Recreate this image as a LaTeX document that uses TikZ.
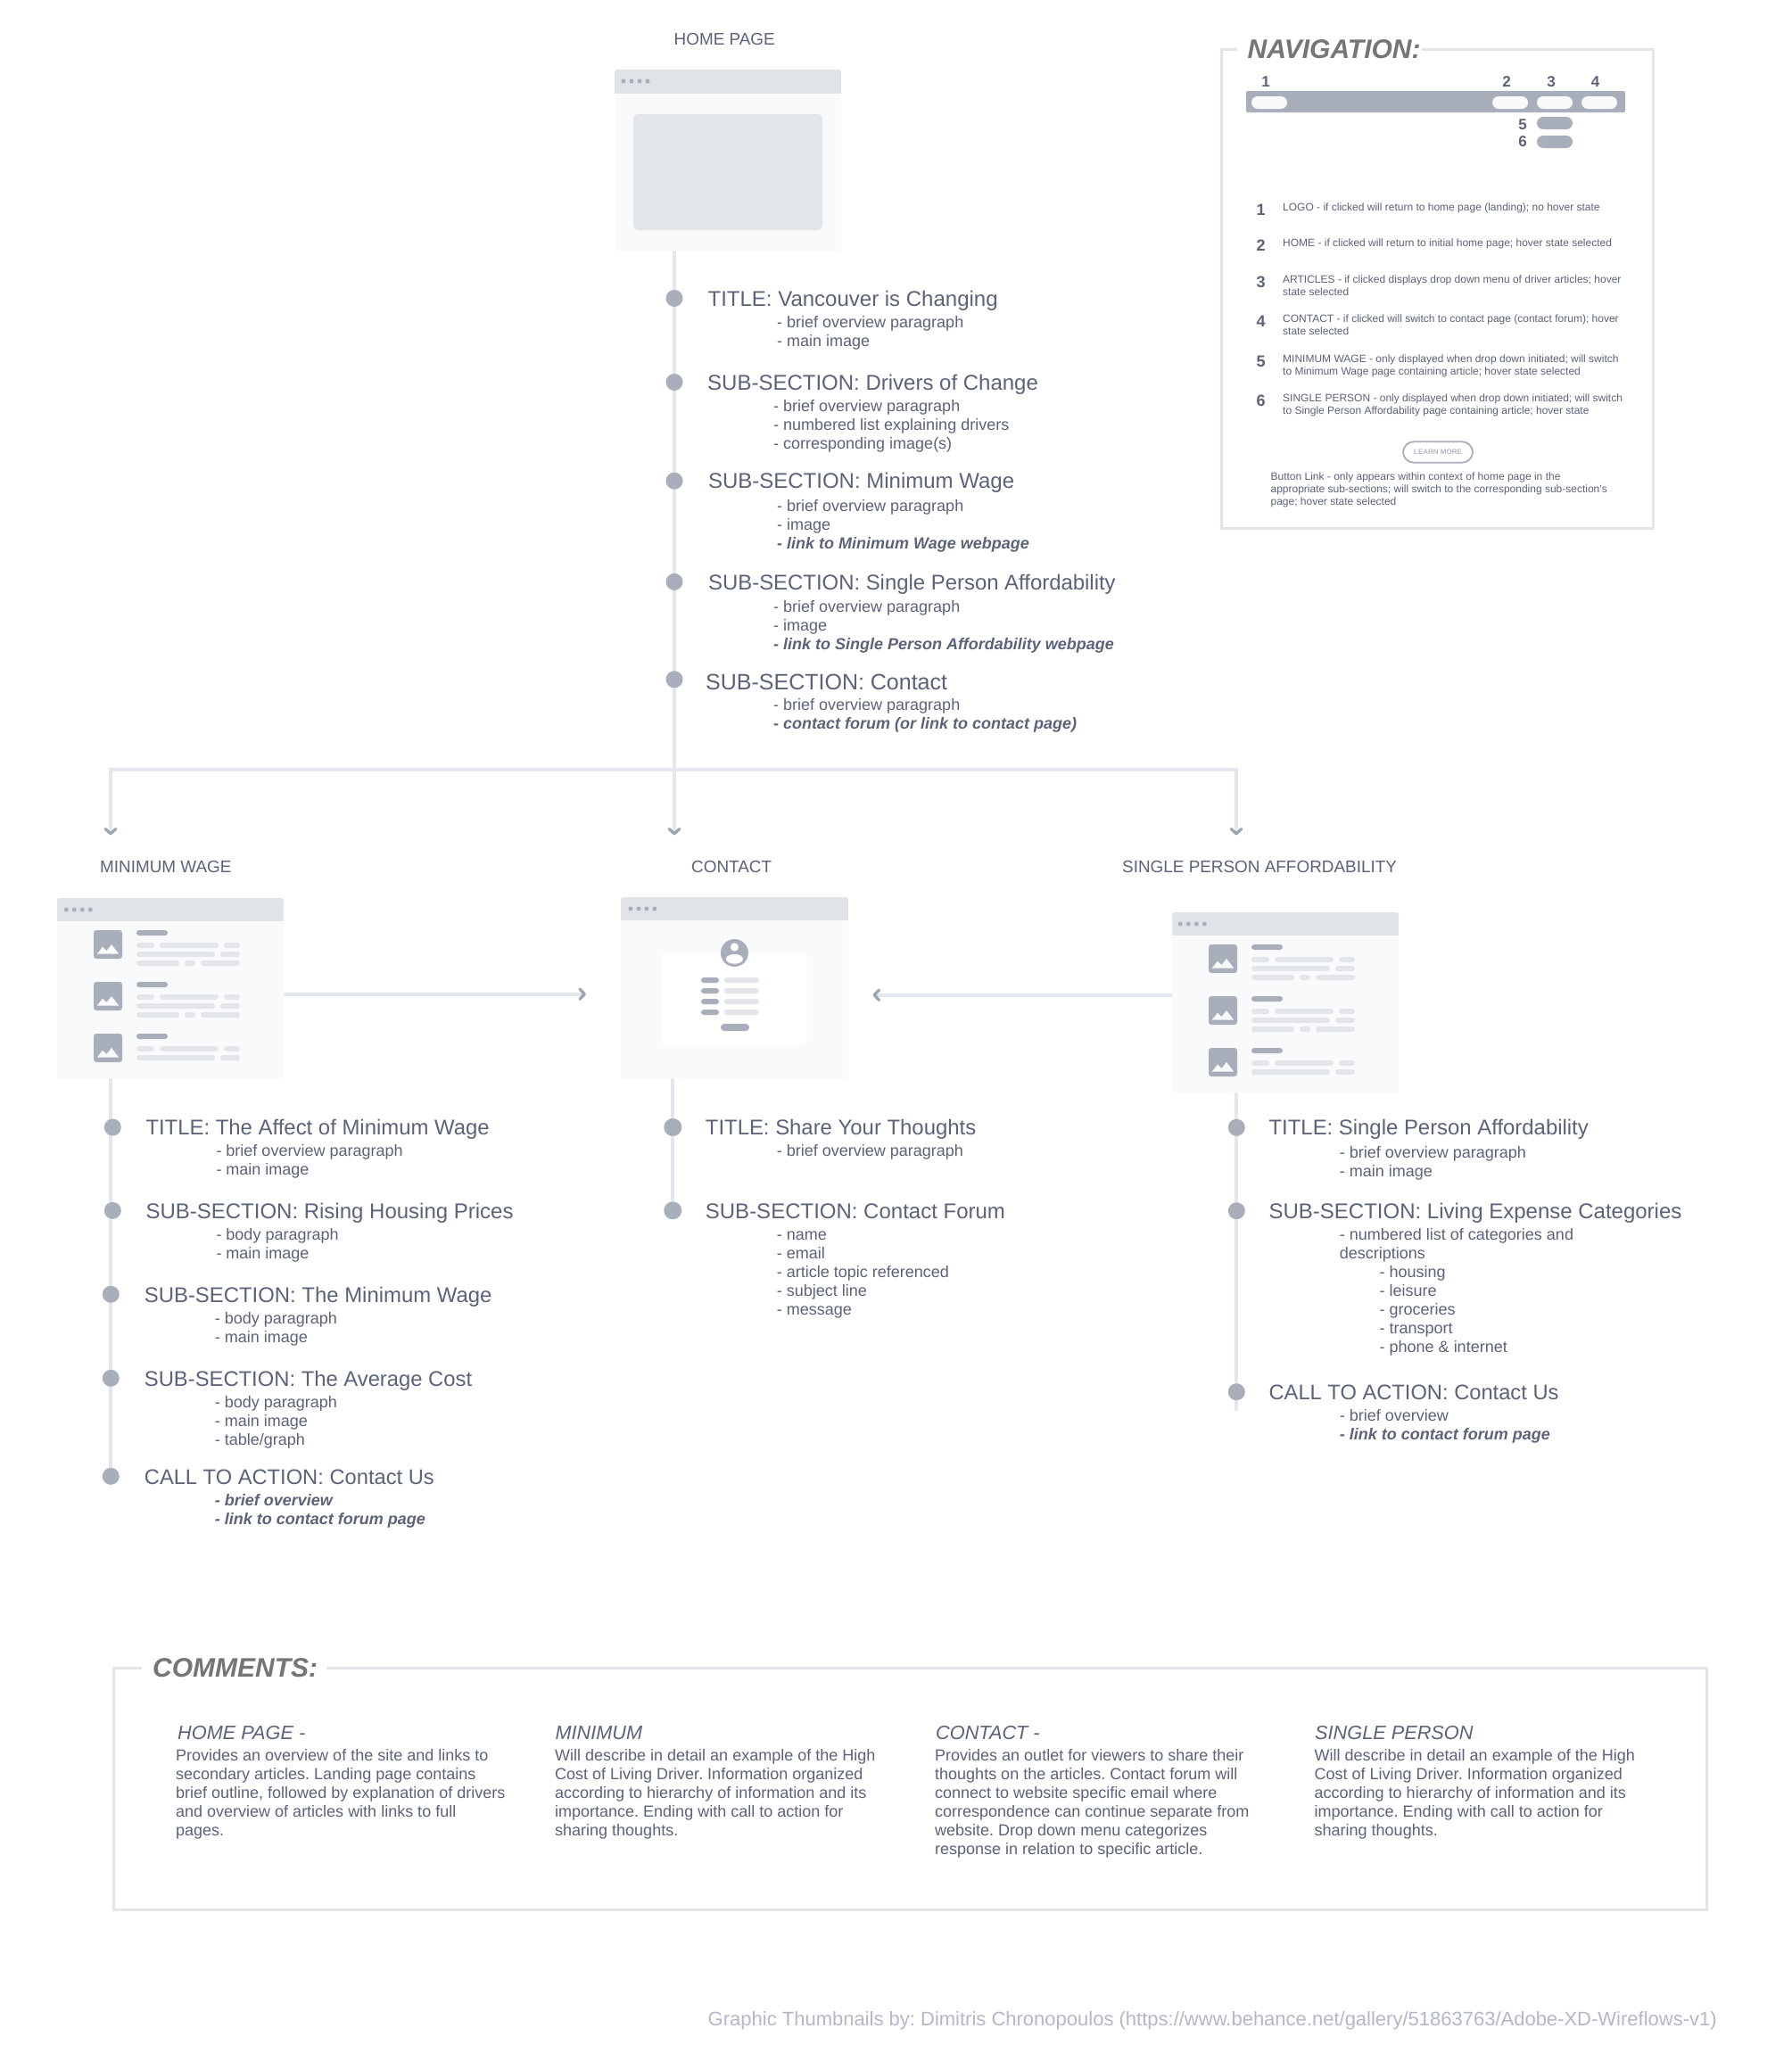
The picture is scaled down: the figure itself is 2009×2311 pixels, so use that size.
\documentclass[tikz,border=0pt]{standalone}
\usepackage{fontspec}
\setmainfont{Liberation Sans}
\usetikzlibrary{arrows.meta}
\definecolor{ink}{HTML}{5C6379}
\definecolor{dotc}{HTML}{A9AEBB}
\definecolor{lightc}{HTML}{E2E5EA}
\definecolor{linec}{HTML}{E4E7ED}
\definecolor{hdrc}{HTML}{E0E4E8}
\definecolor{winc}{HTML}{F9FAFC}
\definecolor{chevc}{HTML}{9AA5B1}
\definecolor{headc}{HTML}{757575}
\definecolor{credc}{HTML}{B4B8C6}
\pgfdeclarelayer{bg}
\pgfsetlayers{bg,main}
\tikzset{
  x=1pt,y=-1pt,
  winbody/.style={fill=winc,rounded corners=3pt,inner sep=0pt,anchor=north west},
  lbl/.style={anchor=base west,inner sep=0pt,text=ink},
  pagelbl/.style={lbl,font=\fontsize{18.9}{21}\selectfont},
  ttl/.style={lbl,font=\fontsize{24}{28}\selectfont},
  sub/.style={lbl,font=\fontsize{18}{21}\selectfont},
  subb/.style={lbl,font=\fontsize{18}{21}\selectfont\bfseries\itshape},
  num/.style={anchor=base,inner sep=0pt,text=ink,font=\fontsize{17}{20}\selectfont\bfseries},
  numb/.style={num,font=\fontsize{18}{20}\selectfont\bfseries},
  navtxt/.style={anchor=north west,inner sep=0pt,text=ink,align=left,font=\fontsize{12}{14}\selectfont},
  combody/.style={anchor=north west,inner sep=0pt,text=ink,align=left,font=\fontsize{18}{21}\selectfont},
  comhead/.style={lbl,font=\fontsize{21.7}{24}\selectfont\itshape},
  bighead/.style={anchor=base west,inner sep=0pt,text=headc,font=\fontsize{30}{32}\selectfont\bfseries\itshape},
  bullet/.style={circle,fill=dotc,inner sep=0pt,minimum size=19pt},
  stem/.style={draw=linec,line width=4pt},
  link/.style={draw=linec,line width=4pt,-{Straight Barb[round,length=5.5pt,width=11.5pt,line width=3.2pt,color=chevc]}},
  boxline/.style={draw=lightc,line width=3pt,line join=miter},
}
\newcommand{\rbar}[6]{\fill[#5,rounded corners=#6pt] (#1,#2) rectangle (#3,#4);}
\newcommand{\pagewin}[7]{% name,x0,y0,w,h,hdr,dotstart
  \begin{scope}[shift={(#2,#3)}]
    \node[winbody,minimum width=#4pt,minimum height=#5pt] (#1) at (0,0) {};
    \fill[hdrc,rounded corners=3pt] (0,0) rectangle (#4,8);
    \fill[hdrc] (0,4) rectangle (#4,#6);
    \foreach \dd in {0,1,2,3} {\fill[dotc] ({#7+9*\dd},13) circle (2.5pt);}
  \end{scope}}
\newcommand{\artblock}[1]{%
  \begin{scope}[shift={(0,#1)}]
    \rbar{41}{36}{73}{68}{dotc}{3}
    \fill[winc] (44.7,62.7) -- (51,54.7) -- (55.5,59) -- (61,52) -- (69.3,62.7) -- cycle;
    \rbar{89}{36}{124}{42}{dotc}{3}
    \rbar{89}{50}{109}{56}{lightc}{3}
    \rbar{115}{50}{181}{56}{lightc}{3}
    \rbar{187}{50}{205}{56}{lightc}{3}
    \rbar{89}{60}{177}{66}{lightc}{3}
    \rbar{183}{60}{205}{66}{lightc}{3}
  \end{scope}}
\newcommand{\artthird}[1]{%
  \begin{scope}[shift={(0,#1)}]
    \rbar{89}{70}{137}{76}{lightc}{3}
    \rbar{143}{70}{155}{76}{lightc}{3}
    \rbar{161}{70}{205}{76}{lightc}{3}
  \end{scope}}
\newcommand{\artset}[2]{%
  \begin{scope}[shift={(#1,#2)}]
    \artblock{0}\artthird{0}
    \artblock{58}\artthird{58}
    \artblock{116}
  \end{scope}}
\newcommand{\navrule}{\rule{0pt}{12pt}}
\newcommand{\comrule}{\rule{0pt}{18pt}}
\frenchspacing
\begin{document}
\begin{tikzpicture}
\useasboundingbox (0,0) rectangle (2009,2311);
\begin{pgfonlayer}{bg}
  \fill[white] (0,0) rectangle (2009,2311);
\end{pgfonlayer}

% ---------- page labels
\node[pagelbl] (lblhome) at (755.5,50) {HOME PAGE};
\node[pagelbl] (lblmin) at (112,978) {MINIMUM WAGE};
\node[pagelbl] (lblcon) at (775,978) {CONTACT};
\node[pagelbl] (lblsin) at (1258,978) {SINGLE PERSON AFFORDABILITY};

% ---------- page thumbnails
\pagewin{homewin}{689}{78}{254}{203}{27}{10}
\rbar{710}{128}{922}{258}{lightc}{5}

\pagewin{minwin}{64}{1007}{254}{202}{26}{10.3}
\artset{64}{1007}

\pagewin{conwin}{696}{1006}{255}{203}{26}{10.9}
\rbar{742}{1068}{904.6}{1172.7}{white}{5}
\fill[dotc] (823.4,1068.5) circle (15.5pt);
\begin{scope}
  \clip (823.4,1068.5) circle (15.5pt);
  \fill[white] (823.4,1062) ellipse (4.5pt and 4.7pt);
  \fill[white] (823.4,1075.3) ellipse (9.5pt and 5.4pt);
\end{scope}
\foreach \ry in {1096,1108,1120,1132} {
  \rbar{786}{\ry}{806}{\ry+6}{dotc}{3}
  \rbar{811.8}{\ry}{851}{\ry+6}{lightc}{3}
}
\rbar{808}{1148}{840}{1156}{dotc}{4}

\pagewin{sinwin}{1314}{1023}{254}{202}{26}{9.3}
\artset{1314}{1023}

% ---------- home list
\node[bullet] (hb1) at (756,334.4) {};
\node[bullet] (hb2) at (756,428.5) {};
\node[bullet] (hb3) at (756,539.2) {};
\node[bullet] (hb4) at (756,652.4) {};
\node[bullet] (hb5) at (756,761.8) {};
\node[ttl] (ht1) at (793.4,343.5) {TITLE: Vancouver is Changing};
\node[sub] (hs11) at (871,367.6) {- brief overview paragraph};
\node[sub] (hs12) at (871,388.3) {- main image};
\node[ttl] (ht2) at (793,437.2) {SUB-SECTION: Drivers of Change};
\node[sub] (hs21) at (867,461.3) {- brief overview paragraph};
\node[sub] (hs22) at (867,482.4) {- numbered list explaining drivers};
\node[sub] (hs23) at (867,503.2) {- corresponding image(s)};
\node[ttl] (ht3) at (793.8,547.5) {SUB-SECTION: Minimum Wage};
\node[sub] (hs31) at (871,573.6) {- brief overview paragraph};
\node[sub] (hs32) at (871,594.4) {- image};
\node[subb] (hs33) at (871,615.1) {- link to Minimum Wage webpage};
\node[ttl,font=\fontsize{23.9}{28}\selectfont] (ht4) at (794,661.5) {SUB-SECTION: Single Person Affordability};
\node[sub] (hs41) at (867,686.4) {- brief overview paragraph};
\node[sub] (hs42) at (867,707.5) {- image};
\node[subb] (hs43) at (867,728.3) {- link to Single Person Affordability webpage};
\node[ttl,font=\fontsize{25}{28}\selectfont] (ht5) at (791,773.9) {SUB-SECTION: Contact};
\node[sub] (hs51) at (867,796.7) {- brief overview paragraph};
\node[subb] (hs52) at (867,817.4) {- contact forum (or link to contact page)};

% ---------- minimum wage list
\node[bullet] (mb1) at (126.3,1264) {};
\node[bullet] (mb2) at (126.3,1357.3) {};
\node[bullet] (mb3) at (124.3,1451.3) {};
\node[bullet] (mb4) at (124.3,1545.3) {};
\node[bullet] (mb5) at (124.3,1655.3) {};
\node[ttl,font=\fontsize{23.9}{28}\selectfont] (mt1) at (163.3,1272) {TITLE: The Affect of Minimum Wage};
\node[sub] (ms11) at (242.3,1296.7) {- brief overview paragraph};
\node[sub] (ms12) at (242.3,1317.7) {- main image};
\node[ttl] (mt2) at (163.3,1366) {SUB-SECTION: Rising Housing Prices};
\node[sub] (ms21) at (242.3,1390.7) {- body paragraph};
\node[sub] (ms22) at (242.3,1411.7) {- main image};
\node[ttl,font=\fontsize{23.9}{28}\selectfont] (mt3) at (161.7,1460) {SUB-SECTION: The Minimum Wage};
\node[sub] (ms31) at (240.7,1484.7) {- body paragraph};
\node[sub] (ms32) at (240.7,1505.7) {- main image};
\node[ttl,font=\fontsize{23.8}{28}\selectfont] (mt4) at (161.7,1554) {SUB-SECTION: The Average Cost};
\node[sub] (ms41) at (240.7,1578.7) {- body paragraph};
\node[sub] (ms42) at (240.7,1599.7) {- main image};
\node[sub] (ms43) at (240.7,1620.7) {- table/graph};
\node[ttl,font=\fontsize{23.7}{28}\selectfont] (mt5) at (161.7,1664) {CALL TO ACTION: Contact Us};
\node[subb] (ms51) at (240.7,1688.3) {- brief overview};
\node[subb] (ms52) at (240.7,1709.3) {- link to contact forum page};

% ---------- contact list
\node[bullet,minimum size=20pt] (cb1) at (754.3,1264) {};
\node[bullet,minimum size=20pt] (cb2) at (754.3,1357.3) {};
\node[ttl,font=\fontsize{23.9}{28}\selectfont] (ct1) at (790.7,1272) {TITLE: Share Your Thoughts};
\node[sub] (cs11) at (870.7,1296.7) {- brief overview paragraph};
\node[ttl] (ct2) at (790.7,1366) {SUB-SECTION: Contact Forum};
\node[sub] (cs21) at (870.7,1390.7) {- name};
\node[sub] (cs22) at (870.7,1411.7) {- email};
\node[sub] (cs23) at (870.7,1432.7) {- article topic referenced};
\node[sub] (cs24) at (870.7,1453.7) {- subject line};
\node[sub] (cs25) at (870.7,1474.7) {- message};

% ---------- single person list
\node[bullet] (sb1) at (1386.3,1264.3) {};
\node[bullet] (sb2) at (1386.3,1357.7) {};
\node[bullet] (sb3) at (1386.3,1560.7) {};
\coordinate (send) at (1386,1582.3);
\node[ttl,font=\fontsize{23.9}{28}\selectfont] (st1) at (1422.4,1272) {TITLE: Single Person Affordability};
\node[sub] (ss11) at (1501.7,1298.7) {- brief overview paragraph};
\node[sub] (ss12) at (1501.7,1319.7) {- main image};
\node[ttl] (st2) at (1422.4,1366) {SUB-SECTION: Living Expense Categories};
\node[sub] (ss21) at (1501.7,1390.7) {- numbered list of categories and};
\node[sub] (ss22) at (1501.7,1411.7) {descriptions};
\node[sub] (ss23) at (1546.5,1432.7) {- housing};
\node[sub] (ss24) at (1546.5,1453.7) {- leisure};
\node[sub] (ss25) at (1546.5,1474.7) {- groceries};
\node[sub] (ss26) at (1546.5,1495.7) {- transport};
\node[sub] (ss27) at (1546.5,1516.7) {- phone \& internet};
\node[ttl,font=\fontsize{23.7}{28}\selectfont] (st3) at (1422.4,1569) {CALL TO ACTION: Contact Us};
\node[sub] (ss31) at (1501.7,1593.3) {- brief overview};
\node[subb] (ss32) at (1501.7,1614.3) {- link to contact forum page};

% ---------- connectors
\coordinate (junction) at (756,862.5);
\coordinate (tipmin) at (124,936.5);
\coordinate (tipcon) at (756,936.5);
\coordinate (tipsin) at (1386,936.5);
\coordinate (tipleft) at (657,1114.7);
\coordinate (tipright) at (978.5,1115.7);
\begin{pgfonlayer}{bg}
  \draw[link] (homewin.south -| junction) -- (tipcon);
  \draw[link] (junction) -| (tipmin);
  \draw[link] (junction) -| (tipsin);
  \draw[stem] (minwin.south -| mb5) -- (mb5);
  \draw[stem] (conwin.south -| cb2) -- (cb2);
  \draw[stem] (sinwin.south -| send) -- (send);
  \draw[link] (minwin.east |- tipleft) -- (tipleft);
  \draw[link] (sinwin.west |- tipright) -- (tipright);
\end{pgfonlayer}

% ---------- navigation panel
\draw[boxline] (1386.8,55.7) -- (1369.4,55.7) -- (1369.4,592.3) -- (1853,592.3) -- (1853,55.7) -- (1594,55.7);
\node[bighead] (navhead) at (1398.5,65.3) {NAVIGATION:};
\rbar{1397}{102}{1822}{126}{dotc}{2}
\rbar{1403}{108}{1443}{122}{winc}{7}
\rbar{1673}{108}{1713}{122}{winc}{7}
\rbar{1723}{108}{1763}{122}{winc}{7}
\rbar{1773}{108}{1813}{122}{winc}{7}
\rbar{1723}{131}{1763}{145}{dotc}{7}
\rbar{1723}{152}{1763}{166}{dotc}{7}
\node[num] (nt1) at (1419,97.3) {1};
\node[num] (nt2) at (1689,97.3) {2};
\node[num] (nt3) at (1739,97.3) {3};
\node[num] (nt4) at (1788.7,97.3) {4};
\node[num] (nt5) at (1707,145) {5};
\node[num] (nt6) at (1707,164.7) {6};
\node[numb] (nl1) at (1413.7,241.5) {1};
\node[numb] (nl2) at (1413.7,281.8) {2};
\node[numb] (nl3) at (1413.7,322) {3};
\node[numb] (nl4) at (1413.7,366) {4};
\node[numb] (nl5) at (1413.7,411.5) {5};
\node[numb] (nl6) at (1413.7,455.5) {6};
\node[navtxt] (nd1) at (1438,224.7) {\navrule LOGO - if clicked will return to home page (landing); no hover state};
\node[navtxt] (nd2) at (1438,264.7) {\navrule HOME - if clicked will return to initial home page; hover state selected};
\node[navtxt] (nd3) at (1438,305.7) {\navrule ARTICLES - if clicked displays drop down menu of driver articles; hover\\state selected};
\node[navtxt] (nd4) at (1438,349) {\navrule CONTACT - if clicked will switch to contact page (contact forum); hover\\state selected};
\node[navtxt] (nd5) at (1438,394) {\navrule MINIMUM WAGE - only displayed when drop down initiated; will switch\\to Minimum Wage page containing article; hover state selected};
\node[navtxt] (nd6) at (1438,438) {\navrule SINGLE PERSON - only displayed when drop down initiated; will switch\\to Single Person Affordability page containing article; hover state};
\node[draw=dotc,fill=white,line width=1.8pt,rounded corners=12pt,minimum width=78pt,minimum height=23.5pt,inner sep=0pt,text=credc,font=\fontsize{8}{9}\selectfont\bfseries] (learn) at (1612,507) {LEARN MORE};
\node[navtxt] (nd7) at (1424.4,526) {\navrule Button Link - only appears within context of home page in the\\appropriate sub-sections; will switch to the corresponding sub-section's\\page; hover state selected};

% ---------- comments panel
\draw[boxline] (159,1870.3) -- (127,1870.3) -- (127,2141.3) -- (1913.8,2141.3) -- (1913.8,1870.3) -- (365.8,1870.3);
\node[bighead] (comhd) at (171,1880.4) {COMMENTS:};
\node[comhead] (ch1) at (199,1950.7) {HOME PAGE -};
\node[comhead] (ch2) at (622.4,1950.7) {MINIMUM};
\node[comhead] (ch3) at (1049,1950.7) {CONTACT -};
\node[comhead] (ch4) at (1474,1950.7) {SINGLE PERSON};
\node[combody] (cd1) at (197,1956.2) {\comrule Provides an overview of the site and links to\\secondary articles. Landing page contains\\brief outline, followed by explanation of drivers\\and overview of articles with links to full\\pages.};
\node[combody] (cd2) at (622,1956.2) {\comrule Will describe in detail an example of the High\\Cost of Living Driver. Information organized\\according to hierarchy of information and its\\importance. Ending with call to action for\\sharing thoughts.};
\node[combody] (cd3) at (1048,1956.2) {\comrule Provides an outlet for viewers to share their\\thoughts on the articles. Contact forum will\\connect to website specific email where\\correspondence can continue separate from\\website. Drop down menu categorizes\\response in relation to specific article.};
\node[combody] (cd4) at (1473.5,1956.2) {\comrule Will describe in detail an example of the High\\Cost of Living Driver. Information organized\\according to hierarchy of information and its\\importance. Ending with call to action for\\sharing thoughts.};

% ---------- credit
\node[anchor=base east,inner sep=0pt,text=credc,font=\fontsize{22}{24}\selectfont] (credit) at (1925,2271.7) {Graphic Thumbnails by: Dimitris Chronopoulos (https://www.behance.net/gallery/51863763/Adobe-XD-Wireflows-v1)};
\end{tikzpicture}
\end{document}
